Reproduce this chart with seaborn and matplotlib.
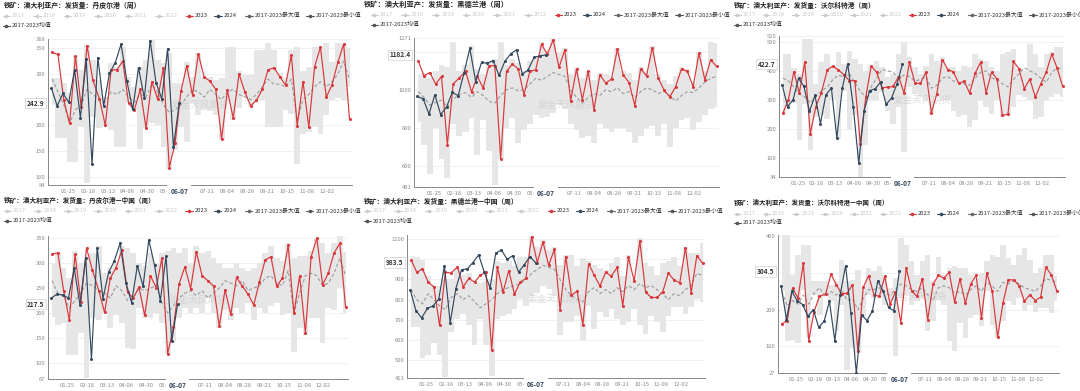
import pandas as pd
import matplotlib
matplotlib.use("Agg")
import matplotlib.pyplot as plt
import seaborn as sns
from matplotlib.lines import Line2D

# weekly series, 2023 full year (52 weeks) and 2024 up to 06-07 (23 weeks)
p1_2023 = [342, 338, 249, 204, 335, 235, 355, 288, 251, 200, 308, 308, 325, 243, 230, 270, 195, 285, 251, 312,
           118, 165, 266, 316, 259, 339, 294, 286, 270, 173, 268, 214, 300, 265, 238, 249, 270, 308, 312, 295,
           278, 337, 199, 285, 197, 314, 352, 255, 279, 323, 358, 212]
p1_2024 = [273, 238, 262, 245, 308, 215, 329, 124, 332, 238, 301, 322, 358, 286, 231, 312, 253, 365, 283, 252,
           349, 158, 242.9]
p1_max = [292, 292, 282, 262, 335, 308, 356, 327, 288, 256, 321, 314, 353, 295, 275, 314, 327, 366, 327, 321,
          340, 282, 282, 324, 295, 340, 294, 295, 288, 292, 353, 353, 305, 298, 298, 347, 347, 360, 347, 301,
          295, 347, 353, 305, 314, 353, 353, 360, 324, 360, 358, 350]
p1_min = [240, 175, 175, 129, 129, 197, 87, 217, 194, 197, 191, 158, 158, 243, 230, 155, 194, 204, 201, 158,
          116, 152, 197, 168, 243, 220, 230, 227, 220, 171, 249, 210, 233, 256, 236, 243, 249, 197, 197, 197,
          230, 223, 124, 184, 188, 197, 184, 220, 249, 253, 249, 275]
p1_mean = [290, 265, 240, 205, 230, 240, 270, 260, 250, 245, 265, 260, 270, 255, 245, 260, 255, 280, 265, 240,
           225, 230, 240, 255, 270, 265, 255, 270, 260, 250, 265, 270, 260, 255, 250, 260, 275, 290, 280, 280,
           275, 290, 210, 250, 260, 275, 285, 275, 285, 300, 325, 290]

p2_2023 = [1151, 1073, 1090, 1030, 1070, 713, 1030, 1061, 1096, 988, 1070, 1009, 1127, 1125, 640, 1096, 1134,
           1110, 974, 1096, 1104, 1238, 1186, 1261, 1117, 1209, 943, 1108, 948, 1096, 896, 1078, 1035, 1056,
           1212, 1078, 1038, 917, 1110, 1073, 1221, 1061, 1000, 962, 1017, 1110, 1096, 1017, 1191, 1052, 1157, 1122]
p2_2024 = [965, 953, 873, 974, 870, 910, 986, 969, 1087, 1217, 1043, 1143, 1139, 1153, 1075, 1148, 1188, 1209,
           1083, 1104, 1170, 1177, 1182.4]
p2_max = [1080, 1090, 1060, 1100, 1130, 1120, 1250, 1100, 1130, 1230, 1110, 1080, 1150, 1160, 1250, 1130, 1160,
          1140, 1100, 1150, 1170, 1250, 1210, 1265, 1200, 1220, 1080, 1120, 1060, 1100, 1050, 1090, 1080, 1070,
          1220, 1100, 1090, 1050, 1120, 1100, 1230, 1080, 1050, 1030, 1070, 1120, 1110, 1030, 1200, 1100, 1250, 1245]
p2_min = [830, 710, 560, 800, 640, 540, 820, 760, 780, 850, 660, 840, 680, 500, 640, 800, 850, 720, 790, 820,
          870, 850, 860, 880, 920, 900, 820, 790, 750, 760, 720, 820, 800, 780, 800, 800, 780, 720, 760, 800,
          810, 760, 820, 700, 800, 840, 850, 790, 830, 870, 900, 910]
p2_mean = [990, 960, 920, 935, 945, 910, 950, 975, 985, 960, 990, 970, 940, 930, 970, 1000, 1010, 995, 1000, 1030,
           1060, 1050, 1070, 1090, 1080, 1070, 1000, 960, 930, 960, 980, 970, 1000, 990, 1010, 980, 990, 960, 990,
           1010, 1000, 980, 990, 970, 940, 970, 990, 985, 1010, 1040, 1060, 1070]

p3_2023 = [254, 300, 397, 324, 429, 183, 275, 323, 404, 416, 403, 387, 366, 366, 149, 309, 416, 395, 341, 344,
           346, 380, 324, 429, 357, 357, 395, 255, 321, 439, 404, 397, 357, 364, 323, 392, 429, 324, 395, 372,
           246, 250, 433, 407, 338, 372, 309, 355, 395, 458, 409, 346]
p3_2024 = [352, 277, 300, 374, 346, 260, 315, 218, 317, 341, 168, 341, 424, 277, 82, 263, 332, 338, 361, 284,
           306, 355, 422.7]
p3_max = [458, 458, 410, 389, 510, 510, 355, 429, 458, 418, 464, 424, 470, 441, 424, 401, 418, 435, 412, 378,
          389, 458, 498, 447, 412, 389, 418, 458, 435, 447, 412, 412, 401, 418, 412, 458, 441, 435, 412, 401,
          458, 464, 475, 407, 401, 492, 458, 412, 458, 464, 481, 481]
p3_min = [252, 275, 290, 160, 286, 126, 240, 246, 235, 298, 166, 332, 195, 246, 34, 145, 298, 298, 326, 263,
          218, 275, 120, 344, 321, 309, 298, 252, 309, 298, 298, 263, 240, 246, 206, 229, 298, 275, 252, 298,
          240, 246, 275, 315, 309, 298, 235, 240, 298, 309, 321, 309]
p3_mean = [375, 365, 345, 320, 310, 290, 310, 330, 345, 370, 385, 380, 390, 360, 330, 310, 345, 375, 405, 400,
           395, 375, 385, 380, 365, 370, 380, 340, 350, 375, 380, 365, 360, 355, 350, 375, 395, 400, 375, 370,
           355, 345, 370, 390, 410, 400, 390, 375, 360, 395, 410, 405]

p4_2023 = [319, 321, 245, 186, 318, 222, 331, 287, 245, 201, 270, 291, 326, 242, 230, 252, 195, 275, 251, 311,
           118, 171, 259, 293, 249, 323, 275, 265, 254, 173, 247, 197, 272, 254, 238, 216, 263, 307, 313, 254,
           270, 336, 199, 275, 160, 313, 351, 257, 280, 321, 340, 212]
p4_2024 = [230, 238, 236, 230, 290, 216, 311, 107, 331, 229, 282, 305, 341, 261, 221, 295, 254, 347, 296, 224,
           314, 143, 217.5]
p4_max = [300, 320, 290, 270, 325, 300, 310, 320, 335, 280, 290, 300, 335, 330, 320, 300, 295, 320, 300, 320,
          325, 330, 320, 330, 300, 335, 320, 325, 310, 300, 290, 290, 300, 290, 285, 290, 300, 320, 335, 310,
          305, 340, 310, 315, 315, 325, 350, 340, 320, 340, 355, 322]
p4_min = [192, 175, 180, 115, 115, 160, 70, 190, 185, 200, 170, 195, 180, 130, 128, 210, 190, 190, 200, 180,
          118, 140, 190, 210, 200, 210, 200, 230, 200, 170, 205, 185, 210, 200, 220, 185, 210, 200, 215, 220,
          195, 200, 122, 170, 155, 190, 190, 140, 210, 205, 250, 200]
p4_mean = [265, 240, 235, 210, 225, 240, 260, 255, 245, 240, 230, 255, 245, 225, 230, 250, 245, 250, 255, 220,
           200, 215, 230, 240, 245, 235, 245, 230, 240, 250, 265, 260, 255, 265, 245, 250, 255, 270, 275, 260,
           255, 285, 200, 240, 275, 280, 275, 255, 260, 280, 310, 275]

p5_2023 = [997, 936, 953, 887, 864, 673, 936, 932, 962, 864, 905, 887, 921, 936, 552, 960, 838, 944, 827, 887,
           905, 1111, 984, 1086, 970, 1049, 749, 1013, 822, 843, 676, 978, 921, 868, 936, 916, 960, 770, 1010, 892,
           1090, 838, 811, 811, 838, 932, 897, 884, 1057, 835, 1018, 981]
p5_2024 = [847, 746, 710, 757, 770, 803, 968, 686, 855, 949, 952, 984, 1022, 936, 859, 1030, 1046, 1000, 1018,
           936, 973, 1013, 983.5]
p5_max = [1017, 1013, 997, 916, 868, 868, 900, 900, 957, 924, 932, 884, 884, 892, 900, 989, 981, 989, 965, 1013,
          1013, 1114, 1062, 1094, 1046, 1062, 973, 1022, 1022, 965, 1005, 989, 973, 957, 949, 981, 1013, 916, 1022,
          900, 1103, 981, 965, 924, 981, 989, 1013, 965, 1062, 1030, 1030, 1078]
p5_min = [665, 665, 511, 527, 584, 527, 417, 641, 706, 730, 673, 576, 706, 576, 422, 706, 722, 730, 754, 803,
          770, 819, 835, 868, 851, 819, 624, 689, 689, 722, 600, 770, 657, 738, 714, 754, 706, 673, 689, 754,
          673, 633, 722, 689, 641, 722, 762, 762, 730, 762, 803, 790]
p5_mean = [850, 800, 780, 830, 800, 770, 750, 810, 830, 800, 820, 790, 760, 780, 800, 830, 850, 860, 870, 880,
           900, 930, 950, 970, 960, 950, 900, 850, 820, 800, 790, 840, 860, 830, 850, 830, 860, 840, 870, 850,
           880, 860, 870, 850, 830, 800, 830, 820, 850, 870, 930, 920]

p6_2023 = [161, 170, 259, 232, 327, 115, 195, 236, 243, 297, 268, 243, 245, 268, 88, 261, 293, 241, 236, 291,
           215, 248, 164, 314, 252, 236, 285, 173, 270, 294, 286, 302, 221, 284, 218, 270, 294, 177, 300, 250,
           125, 218, 282, 281, 266, 223, 241, 225, 234, 316, 295, 252]
p6_2024 = [266, 173, 250, 225, 214, 182, 200, 152, 168, 223, 115, 241, 320, 191, 27, 185, 170, 197, 279, 250,
           206, 197, 304.5]
p6_max = [405, 405, 295, 350, 377, 377, 277, 277, 277, 268, 277, 336, 277, 282, 309, 259, 314, 305, 318, 295,
          259, 286, 395, 377, 332, 295, 332, 350, 277, 345, 295, 314, 318, 314, 314, 295, 286, 300, 332, 350,
          345, 377, 341, 323, 350, 368, 336, 300, 314, 350, 350, 291]
p6_min = [250, 114, 118, 109, 255, 123, 241, 186, 241, 223, 141, 214, 36, 95, 82, 177, 241, 232, 232, 214,
          223, 73, 232, 241, 214, 223, 232, 141, 168, 227, 214, 114, 86, 164, 123, 177, 186, 155, 250, 159,
          123, 168, 223, 214, 232, 200, 214, 195, 205, 205, 191, 223]
p6_mean = [250, 210, 225, 215, 240, 215, 245, 260, 235, 250, 240, 255, 225, 230, 200, 230, 255, 255, 260, 245,
           240, 255, 270, 265, 255, 250, 260, 240, 225, 260, 265, 260, 245, 250, 240, 255, 265, 250, 275, 265,
           250, 275, 270, 280, 270, 260, 255, 250, 265, 285, 280, 275]

titles = ["铁矿：澳大利亚产：发货量：丹皮尔港（周）",
          "铁矿：澳大利亚产：发货量：黑德兰港（周）",
          "铁矿：澳大利亚产：发货量：沃尔科特港（周）",
          "铁矿：澳大利亚产：发货量：丹皮尔港—中国（周）",
          "铁矿：澳大利亚产：发货量：黑德兰港—中国（周）",
          "铁矿：澳大利亚产：发货量：沃尔科特港—中国（周）"]
legend_labels = ["2017", "2018", "2019", "2020", "2021", "2022", "2023", "2024",
                 "2017-2023最大值", "2017-2023最小值", "2017-2023均值"]
xtick_days = [24, 48, 72, 96, 120, 144, 192, 216, 240, 264, 288, 312, 336]
xtick_labels = ["01-25", "02-18", "03-13", "04-06", "04-30", "05-24", "07-11", "08-04",
                "08-28", "09-21", "10-15", "11-08", "12-02"]

dates_2023 = pd.date_range("2023-01-06", periods=52, freq="7D")
dates_2024 = pd.date_range("2024-01-05", periods=23, freq="7D")
base = pd.Timestamp("2024-01-01")
x23 = [(d.replace(year=2024) - base).days for d in dates_2023]
x24 = [(d - base).days for d in dates_2024]
x_last = x24[-1]

RED = "#d9373b"
DARK = "#34495e"
BAND = "#e6e6e6"
MEAN = "#9a9a9a"
LIGHT = "#cccccc"

sns.set_theme(style="white")
plt.rcParams["font.family"] = ["Noto Sans CJK SC", "DejaVu Sans"]

W, H = 1080, 391
fig = plt.figure(figsize=(W / 100, H / 100), dpi=100)
renderer = fig.canvas.get_renderer()


def fx(px):
    return px / W


def fy(py):
    return 1 - py / H


def fit(s, width_px, **kw):
    # font size that makes text s about width_px wide
    t = fig.text(0, 0, s, fontsize=10, **kw)
    w = t.get_window_extent(renderer).width
    t.remove()
    return 10 * width_px / w


LEG_FS = fit("2017", 13)
TICK_FS = fit("01-25", 15)
BOX_FS = fit("1182.4", 21, fontweight="bold")
DATE_FS = fit("06-07", 18, fontweight="bold")
WM_FS = fit("紫金天风期货", 58)

# (left, top, right, bottom) of plot area in px, panel origin, legend layout, title width
panels = [
    dict(d=(p1_2023, p1_2024, p1_max, p1_min, p1_mean), box=(48, 39, 352, 185), org=(0, 0),
         ylim=(84, 368), yticks=[84, 100, 150, 200, 250, 300, 350, 368], ty=(5, 15.5, 25.5), lx=(12, 30.5),
         tw=138),
    dict(d=(p2_2023, p2_2024, p2_max, p2_min, p2_mean), box=(414, 38, 719, 187), org=(360, 0),
         ylim=(491, 1271), yticks=[491, 600, 800, 1000, 1200, 1271], ty=(4.5, 15, 24.5), lx=(20, 30.7),
         tw=144),
    dict(d=(p3_2023, p3_2024, p3_max, p3_min, p3_mean), box=(779, 36, 1065, 177), org=(730, 0),
         ylim=(34, 520), yticks=[34, 100, 200, 300, 400, 500, 520], ty=(5.5, 15, 24.5), lx=(13, 29.2),
         tw=141),
    dict(d=(p4_2023, p4_2024, p4_max, p4_min, p4_mean), box=(48, 236, 348, 379), org=(0, 195),
         ylim=(67, 355), yticks=[67, 100, 150, 200, 250, 300, 350], ty=(200.5, 211, 220.5), lx=(13, 30.3),
         tw=151),
    dict(d=(p5_2023, p5_2024, p5_max, p5_min, p5_mean), box=(407, 235, 705, 378), org=(360, 195),
         ylim=(413, 1120), yticks=[413, 500, 600, 700, 800, 900, 1000, 1100], ty=(201, 211, 221), lx=(13, 30.7),
         tw=155),
    dict(d=(p6_2023, p6_2024, p6_max, p6_min, p6_mean), box=(778, 235, 1059, 373), org=(730, 195),
         ylim=(27, 404), yticks=[27, 100, 200, 300, 400], ty=(202, 213.5, 222.5), lx=(13, 29.2),
         tw=154),
]

for i, p in enumerate(panels):
    y23, y24, ymax, ymin, ymean = p["d"]
    l, t, r, b = p["box"]
    ax = fig.add_axes([fx(l), fy(b), fx(r - l), (b - t) / H])

    ax.fill_between(x23, ymin, ymax, step="mid", color=BAND, linewidth=0, zorder=1)
    sns.lineplot(x=x23, y=ymean, ax=ax, color=MEAN, linewidth=0.8, linestyle=(0, (3, 2)), zorder=2)
    sns.lineplot(x=x23, y=y23, ax=ax, color=RED, linewidth=0.85, marker="o", markersize=2.2,
                 markeredgewidth=0, zorder=4)
    sns.lineplot(x=x24, y=y24, ax=ax, color=DARK, linewidth=0.85, marker="o", markersize=2.2,
                 markeredgewidth=0, zorder=5)

    ax.set_xlim(0, 366)
    ax.set_ylim(*p["ylim"])
    ax.set_yticks(p["yticks"])
    ax.set_yticklabels([str(v) for v in p["yticks"]])
    ax.set_xticks(xtick_days)
    ax.set_xticklabels(xtick_labels)
    ax.set_xlabel("")
    ax.set_ylabel("")
    ax.tick_params(axis="y", length=0, labelsize=TICK_FS, labelcolor="#8a8a8a", pad=2)
    ax.tick_params(axis="x", length=2, width=0.5, color="#aaaaaa", labelsize=TICK_FS,
                   labelcolor="#8a8a8a", pad=3, direction="in")
    ax.grid(axis="y", color="#eeeeee", linewidth=0.6)
    ax.set_axisbelow(True)
    for s in ["top", "right"]:
        ax.spines[s].set_visible(False)
    for s in ["left", "bottom"]:
        ax.spines[s].set_color("#888888")
        ax.spines[s].set_linewidth(0.7)

    # watermark
    ax.text(0.5, 0.55, "紫金天风期货", transform=ax.transAxes, ha="center", va="center",
            fontsize=WM_FS, color="#c8c8c8", alpha=0.6, zorder=3)

    # latest value marker on the y axis, box right edge touching the axis
    aw = r - l
    ax.text(-3.5 / aw, y24[-1], f"{y24[-1]:.1f}", transform=ax.get_yaxis_transform(),
            ha="right", va="center", fontsize=BOX_FS, fontweight="bold", color="#333333", zorder=10,
            bbox=dict(boxstyle="square,pad=0.25", fc="white", ec="#d0d0d0", lw=0.5), clip_on=False)
    # current date marker on the x axis
    ah = b - t
    ax.text(x_last, -6.5 / ah, "06-07", transform=ax.get_xaxis_transform(), ha="center", va="center",
            fontsize=DATE_FS, fontweight="bold", color="#34495e", zorder=10,
            bbox=dict(boxstyle="square,pad=0.45", fc="white", ec="none"), clip_on=False)

    # title and legend
    ox, oy = p["org"]
    ty_title, ty_r1, ty_r2 = p["ty"]
    tfs = fit(titles[i], p["tw"], fontweight="bold")
    fig.text(fx(ox + 4), fy(ty_title), titles[i], fontsize=tfs, fontweight="bold", color="#222222",
             va="center", ha="left")
    start, step = p["lx"]
    xs = [ox + start + k * step for k in range(7)]
    xs.append(xs[-1] + 28.5)
    xs.append(xs[-1] + 31)
    xs.append(xs[-1] + 61)
    colors = [LIGHT] * 6 + [RED, DARK, "#666666", "#555555"]
    for k, (xt, lab, c) in enumerate(zip(xs, legend_labels[:10], colors)):
        tc = LIGHT if k < 6 else "#333333"
        fig.add_artist(Line2D([fx(xt - 9.5), fx(xt - 2)], [fy(ty_r1)] * 2, color=c, lw=0.8))
        fig.add_artist(Line2D([fx(xt - 5.75)], [fy(ty_r1)], color=c, marker="o", markersize=2.6,
                              markeredgewidth=0))
        fig.text(fx(xt), fy(ty_r1), lab, fontsize=LEG_FS, color=tc, va="center", ha="left")
    xt = ox + start
    fig.add_artist(Line2D([fx(xt - 9.5), fx(xt - 2)], [fy(ty_r2)] * 2, color="#555555", lw=0.8))
    fig.add_artist(Line2D([fx(xt - 5.75)], [fy(ty_r2)], color="#555555", marker="o", markersize=2.6,
                          markeredgewidth=0))
    fig.text(fx(xt), fy(ty_r2), legend_labels[10], fontsize=LEG_FS, color="#333333", va="center", ha="left")

fig.savefig("out.png", dpi=100)
